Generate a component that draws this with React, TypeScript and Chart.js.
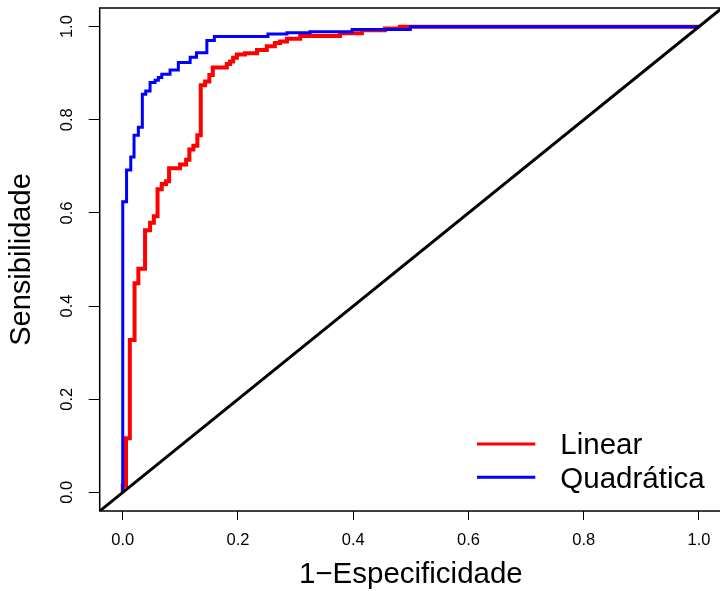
import React, { useEffect, useRef } from "react";
import { Chart, registerables } from "chart.js";

Chart.register(...registerables);

// ROC curve vertices (1 - specificity, sensitivity)
const linearFpr = [
  0, 0, 0.0057, 0.0057, 0.0123, 0.0123, 0.0205, 0.0205, 0.0271, 0.0271,
  0.0387, 0.0387, 0.0474, 0.0474, 0.054, 0.054, 0.0604, 0.0604, 0.0677, 0.0677,
  0.0752, 0.0752, 0.0804, 0.0804, 0.0995, 0.0995, 0.11, 0.11, 0.1156, 0.1156,
  0.1226, 0.1226, 0.1295, 0.1295, 0.1354, 0.1354, 0.1429, 0.1429, 0.1503, 0.1503,
  0.1563, 0.1563, 0.1806, 0.1806, 0.1863, 0.1863, 0.1915, 0.1915, 0.198, 0.198,
  0.212, 0.212, 0.233, 0.233, 0.25, 0.25, 0.264, 0.264, 0.273, 0.273,
  0.285, 0.285, 0.308, 0.308, 0.377, 0.377, 0.415, 0.415, 0.455, 0.455,
  0.481, 0.481, 1.0,
];
const linearTpr = [
  0, 0.014, 0.014, 0.116, 0.116, 0.327, 0.327, 0.449, 0.449, 0.48,
  0.48, 0.563, 0.563, 0.579, 0.579, 0.593, 0.593, 0.651, 0.651, 0.662,
  0.662, 0.668, 0.668, 0.696, 0.696, 0.704, 0.704, 0.714, 0.714, 0.736,
  0.736, 0.744, 0.744, 0.767, 0.767, 0.874, 0.874, 0.882, 0.882, 0.896,
  0.896, 0.912, 0.912, 0.92, 0.92, 0.925, 0.925, 0.933, 0.933, 0.94,
  0.94, 0.943, 0.943, 0.95, 0.95, 0.958, 0.958, 0.965, 0.965, 0.968,
  0.968, 0.974, 0.974, 0.98, 0.98, 0.986, 0.986, 0.992, 0.992, 0.996,
  0.996, 1.0, 1.0,
];
const quadFpr = [
  0, 0, 0.0066, 0.0066, 0.0139, 0.0139, 0.0196, 0.0196, 0.0271, 0.0271,
  0.034, 0.034, 0.0399, 0.0399, 0.0474, 0.0474, 0.0561, 0.0561, 0.0618, 0.0618,
  0.0677, 0.0677, 0.0821, 0.0821, 0.0965, 0.0965, 0.117, 0.117, 0.128, 0.128,
  0.146, 0.146, 0.159, 0.159, 0.252, 0.252, 0.285, 0.285, 0.325, 0.325,
  0.398, 0.398, 0.499, 0.499, 1.0,
];
const quadTpr = [
  0, 0.624, 0.624, 0.692, 0.692, 0.72, 0.72, 0.767, 0.767, 0.784,
  0.784, 0.855, 0.855, 0.862, 0.862, 0.88, 0.88, 0.885, 0.885, 0.891,
  0.891, 0.898, 0.898, 0.907, 0.907, 0.923, 0.923, 0.934, 0.934, 0.944,
  0.944, 0.97, 0.97, 0.979, 0.979, 0.984, 0.984, 0.987, 0.987, 0.989,
  0.989, 0.994, 0.994, 1.0, 1.0,
];
// reference line abline(0, 1) across the plot region
const refLine = [-0.04, 1.04];

const xTicks = [0, 0.2, 0.4, 0.6, 0.8, 1.0];
const yTicks = [0, 0.2, 0.4, 0.6, 0.8, 1.0];
const seriesLabels = ["Linear", "Quadrática"];
const seriesColors = ["#FF0000", "#0000FF"];
const xTitle = "1−Especificidade";
const yTitle = "Sensibilidade";

const FONT = "'Liberation Sans', Arial, Helvetica, sans-serif";
const W = 722;
const H = 591;

const boxPlugin = {
  id: "rbox",
  beforeDatasetsDraw(chart: any) {
    const { ctx, chartArea: a } = chart;
    ctx.save();
    ctx.strokeStyle = "#000";
    ctx.lineWidth = 1.5;
    ctx.strokeRect(a.left, a.top, a.right - a.left, a.bottom - a.top);
    ctx.restore();
  },
};

const legendPlugin = {
  id: "rlegend",
  afterDatasetsDraw(chart: any) {
    const { ctx, chartArea: a } = chart;
    const items = seriesLabels.map((lab) => {
      const ds = chart.data.datasets.find((d: any) => d.label === lab);
      return { label: lab, color: ds ? ds.borderColor : "#000" };
    });
    const x0 = a.right - 245;
    const x1 = a.right - 186.7;
    const tx = a.right - 161.7;
    const y0 = a.bottom - 67;
    const dy = 33.3;
    ctx.save();
    items.forEach((it, i) => {
      const y = y0 + i * dy;
      ctx.strokeStyle = it.color;
      ctx.lineWidth = 3;
      ctx.lineCap = "butt";
      ctx.beginPath();
      ctx.moveTo(x0, y);
      ctx.lineTo(x1, y);
      ctx.stroke();
      ctx.fillStyle = "#000";
      ctx.font = `29.5px ${FONT}`;
      ctx.textAlign = "left";
      ctx.textBaseline = "alphabetic";
      ctx.fillText(it.label, tx, y + 10.3);
    });
    ctx.restore();
  },
};

export default function App() {
  const ref = useRef<HTMLCanvasElement | null>(null);

  useEffect(() => {
    const canvas = ref.current;
    if (!canvas) return;
    document.documentElement.style.overflow = "hidden";
    document.body.style.overflow = "hidden";

    const chart = new Chart(canvas, {
      type: "scatter",
      data: {
        datasets: [
          {
            label: "",
            data: refLine.map((v) => ({ x: v, y: v })),
            borderColor: "#000000",
            borderWidth: 3,
            showLine: true,
            pointRadius: 0,
            order: 0,
            clip: 0,
          },
          {
            label: seriesLabels[1],
            data: quadFpr.map((x, i) => ({ x, y: quadTpr[i] })),
            borderColor: seriesColors[1],
            borderWidth: 3,
            showLine: true,
            pointRadius: 0,
            tension: 0,
            borderJoinStyle: "miter",
            order: 1,
          },
          {
            label: seriesLabels[0],
            data: linearFpr.map((x, i) => ({ x, y: linearTpr[i] })),
            borderColor: seriesColors[0],
            borderWidth: 4,
            showLine: true,
            pointRadius: 0,
            tension: 0,
            borderJoinStyle: "miter",
            order: 2,
          },
        ],
      } as any,
      options: {
        responsive: false,
        animation: false,
        devicePixelRatio: 1,
        events: [],
        layout: { padding: { top: 8, left: 0, right: 0, bottom: 0 } },
        plugins: {
          legend: { display: false },
          tooltip: { enabled: false },
        },
        scales: {
          x: {
            type: "linear",
            min: -0.04,
            max: 1.04,
            afterBuildTicks: (s: any) => {
              s.ticks = xTicks.map((v) => ({ value: v }));
            },
            afterFit: (s: any) => {
              s.height = 80;
              s.paddingLeft = 0;
              s.paddingRight = 0;
            },
            grid: {
              drawOnChartArea: false,
              drawTicks: true,
              tickLength: 9,
              tickColor: "#000",
              tickWidth: 1,
            },
            border: { display: false },
            ticks: {
              color: "#000",
              font: { family: FONT, size: 16.5 },
              padding: 11,
              minRotation: 0,
              maxRotation: 0,
              autoSkip: false,
              callback: (v: any) => Number(v).toFixed(1),
            },
            title: {
              display: true,
              text: xTitle,
              color: "#000",
              font: { family: FONT, size: 29.5, lineHeight: 1 },
              padding: { top: 0, bottom: 1 },
            },
          },
          y: {
            type: "linear",
            min: -0.04,
            max: 1.04,
            afterBuildTicks: (s: any) => {
              s.ticks = yTicks.map((v) => ({ value: v }));
            },
            afterFit: (s: any) => {
              s.width = 99.7;
              s.paddingTop = 0;
              s.paddingBottom = 0;
            },
            grid: {
              drawOnChartArea: false,
              drawTicks: true,
              tickLength: 11,
              tickColor: "#000",
              tickWidth: 1,
            },
            border: { display: false },
            ticks: {
              color: "#000",
              font: { family: FONT, size: 16.5 },
              padding: 10,
              minRotation: 90,
              maxRotation: 90,
              crossAlign: "center",
              autoSkip: false,
              callback: (v: any) => Number(v).toFixed(1),
            },
            title: {
              display: true,
              text: yTitle,
              color: "#000",
              font: { family: FONT, size: 29, lineHeight: 1 },
              padding: { top: 7.5, bottom: 0 },
            },
          },
        },
      } as any,
      plugins: [boxPlugin, legendPlugin],
    });

    return () => {
      chart.destroy();
    };
  }, []);

  return (
    <div
      style={{
        position: "fixed",
        left: 0,
        top: 0,
        width: W,
        height: H,
        background: "#fff",
      }}
    >
      <canvas ref={ref} width={W} height={H} style={{ display: "block" }} />
    </div>
  );
}
